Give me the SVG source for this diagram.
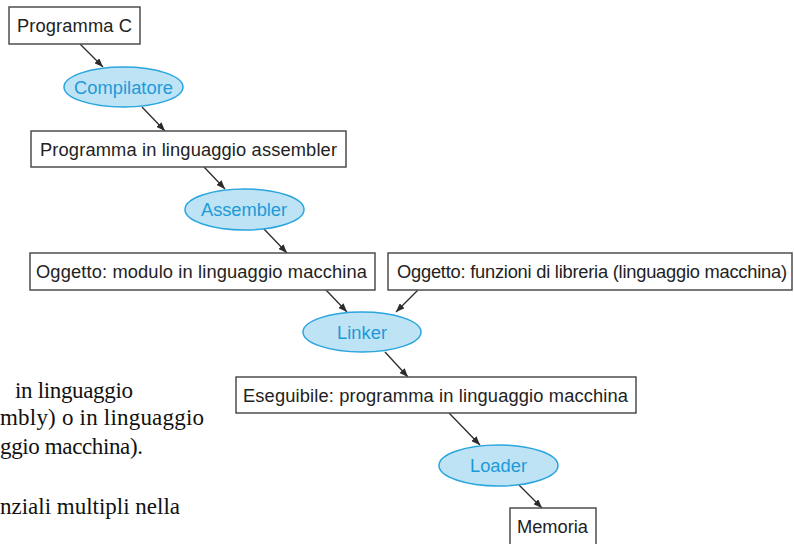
<svg xmlns="http://www.w3.org/2000/svg" width="794" height="544" viewBox="0 0 794 544">
<defs>
<style>
.box{fill:#fff;stroke:#4d4d4d;stroke-width:1.5}
.ell{fill:#bde3f5;stroke:#2aa5de;stroke-width:1.5}
.t{font-family:"Liberation Sans",Arial,sans-serif;font-size:18.3px;fill:#222}
.et{font-family:"Liberation Sans",Arial,sans-serif;font-size:18.3px;fill:#1e9ad8}
.side{font-family:"Liberation Serif","Times New Roman",serif;font-size:23px;fill:#111}
.c{stroke:#2b2b2b;stroke-width:1.3;fill:none;marker-end:url(#ah)}
</style>
<marker id="ah" viewBox="0 0 10 8" refX="10" refY="4" markerWidth="9" markerHeight="7" markerUnits="userSpaceOnUse" orient="auto">
<path d="M0,0 L10,4 L0,8 z" fill="#2b2b2b"/>
</marker>
</defs>
<rect width="794" height="544" fill="#fff"/>
<g id="side-text">
<text class="side" x="15" y="397.5" textLength="118">in linguaggio</text>
<text class="side" x="0" y="425" textLength="204">mbly) o in linguaggio</text>
<text class="side" x="0" y="453.5" textLength="143">ggio macchina).</text>
<text class="side" x="0" y="514" textLength="180">nziali multipli nella</text>
</g>
<g id="connectors">
<line class="c" x1="80" y1="44" x2="103" y2="67"/>
<line class="c" x1="142" y1="107" x2="165" y2="131"/>
<line class="c" x1="204" y1="167" x2="225" y2="189"/>
<line class="c" x1="264" y1="229" x2="287" y2="253"/>
<line class="c" x1="326" y1="290" x2="347" y2="312"/>
<line class="c" x1="418" y1="290" x2="396" y2="312"/>
<line class="c" x1="385" y1="352" x2="408" y2="377"/>
<line class="c" x1="449" y1="413" x2="480" y2="445"/>
<line class="c" x1="519" y1="485" x2="542" y2="508"/>
</g>
<g id="programma-c">
<rect class="box" x="9" y="7" width="131" height="37"/>
<text class="t" x="17" y="32" textLength="115">Programma C</text>
</g>
<g id="compilatore">
<ellipse class="ell" cx="123.5" cy="87" rx="59.5" ry="20"/>
<text class="et" x="74" y="93.5" textLength="99">Compilatore</text>
</g>
<g id="programma-assembler">
<rect class="box" x="31" y="131" width="315" height="36"/>
<text class="t" x="40" y="155.5" textLength="297">Programma in linguaggio assembler</text>
</g>
<g id="assembler">
<ellipse class="ell" cx="244.5" cy="209.5" rx="59.5" ry="20.5"/>
<text class="et" x="201" y="216" textLength="86">Assembler</text>
</g>
<g id="oggetto-modulo">
<rect class="box" x="30" y="253" width="345" height="37"/>
<text class="t" x="36" y="278" textLength="331">Oggetto: modulo in linguaggio macchina</text>
</g>
<g id="oggetto-funzioni">
<rect class="box" x="388" y="253" width="404" height="37"/>
<text class="t" x="397" y="278" textLength="390">Oggetto: funzioni di libreria (linguaggio macchina)</text>
</g>
<g id="linker">
<ellipse class="ell" cx="362" cy="332" rx="59" ry="20"/>
<text class="et" x="337" y="338.5" textLength="50">Linker</text>
</g>
<g id="eseguibile">
<rect class="box" x="236" y="377" width="400" height="36"/>
<text class="t" x="243" y="401.5" textLength="385">Eseguibile: programma in linguaggio macchina</text>
</g>
<g id="loader">
<ellipse class="ell" cx="498.5" cy="465.5" rx="59.5" ry="20.5"/>
<text class="et" x="470" y="472" textLength="57">Loader</text>
</g>
<g id="memoria">
<rect class="box" x="510" y="508" width="86" height="40"/>
<text class="t" x="517" y="533" textLength="71">Memoria</text>
</g>
</svg>
